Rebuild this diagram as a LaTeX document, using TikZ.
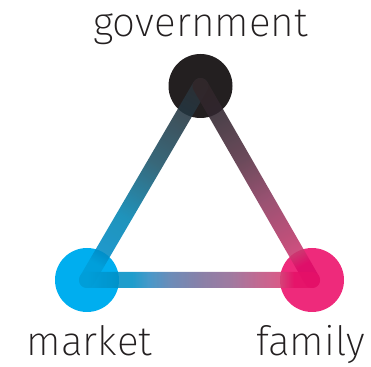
\documentclass[tikz,border=0pt]{standalone}
\usepackage{fontspec}
\setmainfont{Fira Sans ExtraLight}
\usetikzlibrary{calc}

% node colours
\definecolor{govc}{RGB}{35,31,32}
\definecolor{markc}{RGB}{0,174,239}
\definecolor{famc}{RGB}{238,42,123}
\definecolor{inkc}{RGB}{35,31,32}

% government -> market band
\definecolor{gmA}{RGB}{44,50,56}
\definecolor{gmB}{RGB}{36,54,65}
\definecolor{gmC}{RGB}{28,83,104}
\definecolor{gmD}{RGB}{0,132,178}
\definecolor{gmE}{RGB}{0,139,197}
\definecolor{gmF}{RGB}{0,158,217}
\pgfdeclarehorizontalshading{govmarket}{100bp}{%
  color(0bp)=(gmA); color(26.66bp)=(gmA); color(33.19bp)=(gmB);
  color(45.33bp)=(gmC); color(58.17bp)=(gmD); color(66.8bp)=(gmE);
  color(69.6bp)=(gmF); color(100bp)=(gmF)}

% government -> family band
\definecolor{gfA}{RGB}{49,38,41}
\definecolor{gfB}{RGB}{49,38,47}
\definecolor{gfC}{RGB}{87,49,68}
\definecolor{gfD}{RGB}{140,58,95}
\definecolor{gfE}{RGB}{183,56,104}
\definecolor{gfF}{RGB}{201,56,111}
\definecolor{gfG}{RGB}{222,12,104}
\pgfdeclarehorizontalshading{govfamily}{100bp}{%
  color(0bp)=(gfA); color(26.66bp)=(gfA); color(33.19bp)=(gfB);
  color(44.4bp)=(gfC); color(54.2bp)=(gfD); color(63.54bp)=(gfE);
  color(66.8bp)=(gfF); color(69.6bp)=(gfG); color(100bp)=(gfG)}

% market -> family band
\definecolor{mfA}{RGB}{0,158,217}
\definecolor{mfB}{RGB}{0,143,197}
\definecolor{mfC}{RGB}{49,138,193}
\definecolor{mfD}{RGB}{88,124,174}
\definecolor{mfE}{RGB}{120,111,156}
\definecolor{mfF}{RGB}{147,104,147}
\definecolor{mfG}{RGB}{188,83,129}
\definecolor{mfH}{RGB}{211,68,120}
\definecolor{mfI}{RGB}{229,17,104}
\pgfdeclarehorizontalshading{marketfamily}{100bp}{%
  color(0bp)=(mfA); color(26.66bp)=(mfA); color(33.19bp)=(mfB);
  color(36bp)=(mfB); color(39.73bp)=(mfC); color(43.93bp)=(mfD);
  color(50bp)=(mfE); color(56.54bp)=(mfF); color(62.6bp)=(mfG);
  color(66.8bp)=(mfH); color(69.6bp)=(mfI); color(100bp)=(mfI)}

% thick graded band between the centres of two named nodes
\newcommand\bandbetween[3]{%
  \pgfpointdiff{\pgfpointanchor{#1}{center}}{\pgfpointanchor{#2}{center}}%
  \pgfgetlastxy{\bandx}{\bandy}%
  \pgfmathsetmacro\bandlen{veclen(\bandx,\bandy)}%
  \pgfmathsetmacro\bandangle{atan2(\bandy,\bandx)}%
  \begin{scope}[transform canvas={shift={(#1)},rotate=\bandangle}]
    \shade[shading=#3, opacity=0.88, rounded corners=8pt]
      (-8,-8) rectangle ({\bandlen+8},8);
  \end{scope}}

\tikzset{
  hub/.style={circle, inner sep=0pt, minimum size=64pt},
  tag/.style={anchor=base, inner sep=0pt, text=inkc, font=\fontsize{40.5}{41}\selectfont}
}

\begin{document}
\begin{tikzpicture}[x=1pt, y=1pt]
  \useasboundingbox (0,0) rectangle (371,366);

  \node[hub, fill=govc]  (G) at (200.5,280) {};
  \node[hub, fill=markc] (M) at (87,86) {};
  \node[hub, fill=famc]  (F) at (312,86) {};

  \bandbetween{G}{M}{govmarket}
  \bandbetween{G}{F}{govfamily}
  \bandbetween{M}{F}{marketfamily}

  \node[tag] (tg) at (200.5,329) {government};
  \node[tag] (tm) at (89.5,10.5) {market};
  \node[tag] (tf) at (310.5,10.5) {family};
\end{tikzpicture}
\end{document}
